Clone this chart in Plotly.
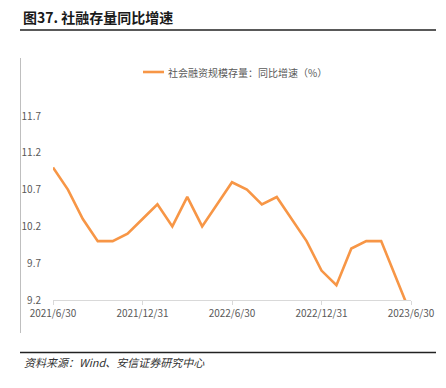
import plotly.graph_objects as go

dates = ["2021/6/30", "2021/7/31", "2021/8/31", "2021/9/30", "2021/10/31", "2021/11/30",
         "2021/12/31", "2022/1/31", "2022/2/28", "2022/3/31", "2022/4/30", "2022/5/31",
         "2022/6/30", "2022/7/31", "2022/8/31", "2022/9/30", "2022/10/31", "2022/11/30",
         "2022/12/31", "2023/1/31", "2023/2/28", "2023/3/31", "2023/4/30", "2023/5/31",
         "2023/6/30"]
tsf_growth = [11.0, 10.7, 10.3, 10.0, 10.0, 10.1, 10.3, 10.5, 10.2, 10.6, 10.2, 10.5,
              10.8, 10.7, 10.5, 10.6, 10.3, 10.0, 9.6, 9.4, 9.9, 10.0, 10.0, 9.5, 9.0]
x_ticks = ["2021/6/30", "2021/12/31", "2022/6/30", "2022/12/31", "2023/6/30"]
y_ticks = [9.2, 9.7, 10.2, 10.7, 11.2, 11.7]
series_name = "社会融资规模存量：同比增速（%）"
title_text = "图37. 社融存量同比增速"
source_text = "资料来源：Wind、安信证券研究中心"

W, H = 446, 388
L, R, T, B = 53, 35, 116, 88
pw = W - L - R
ph = H - T - B
LINE_COLOR = "#F79646"

def px(x):
    return (x - L) / pw

def py(y):
    return (H - B - y) / ph

fig = go.Figure()
fig.add_trace(go.Scatter(
    x=dates, y=tsf_growth, mode="lines", name=series_name,
    line=dict(color=LINE_COLOR, width=2.6),
    cliponaxis=True, showlegend=False,
))

fig.update_layout(
    width=W, height=H,
    margin=dict(l=L, r=R, t=T, b=B),
    paper_bgcolor="white", plot_bgcolor="white",
    font=dict(family="Noto Sans CJK SC, Noto Sans, sans-serif", color="#595959", size=10),
    showlegend=False,
    xaxis=dict(
        type="category", range=[0, 24],
        tickmode="array", tickvals=x_ticks, ticktext=x_ticks,
        showgrid=False, showline=True, linecolor="#D9D9D9", linewidth=1,
        ticks="outside", ticklen=4, tickcolor="#D9D9D9",
        tickfont=dict(size=10, color="#595959"),
        zeroline=False,
    ),
    yaxis=dict(
        range=[9.2, 11.7], tickmode="array", tickvals=y_ticks,
        ticktext=[f"{v:.1f}" for v in y_ticks],
        showgrid=False, showline=False, zeroline=False,
        ticks="outside", ticklen=9, tickcolor="rgba(0,0,0,0)",
        tickfont=dict(size=10, color="#595959"),
    ),
)

# manual legend
fig.add_shape(type="line", xref="paper", yref="paper", x0=px(143), x1=px(164),
              y0=py(72), y1=py(72), line=dict(color=LINE_COLOR, width=2.6))
fig.add_annotation(text=series_name, xref="paper", yref="paper",
                   x=px(166), y=py(72), xanchor="left", yanchor="middle", showarrow=False,
                   font=dict(size=10, color="#595959"))

# title
fig.add_annotation(text="<b>" + title_text + "</b>", xref="paper", yref="paper",
                   x=px(21), y=py(17), xanchor="left", yanchor="middle", showarrow=False,
                   font=dict(size=14, color="#1a1a1a", family="Noto Sans CJK SC"))
# source
fig.add_annotation(text="<i>" + source_text + "</i>", xref="paper", yref="paper",
                   x=px(22), y=py(362), xanchor="left", yanchor="middle", showarrow=False,
                   font=dict(size=11, color="#333333", family="Noto Sans CJK SC"))

# decorative lines
fig.add_shape(type="line", xref="paper", yref="paper", x0=px(20), x1=px(436),
              y0=py(30), y1=py(30), line=dict(color="#222222", width=1.5))
fig.add_shape(type="line", xref="paper", yref="paper", x0=px(20), x1=px(436),
              y0=py(352.5), y1=py(352.5), line=dict(color="#222222", width=1.5))
fig.add_shape(type="line", xref="paper", yref="paper", x0=px(20.5), x1=px(20.5),
              y0=py(58), y1=py(333), line=dict(color="#BFBFBF", width=1))

fig.write_html("out.html", config={"displayModeBar": False},
               post_script="document.body.style.margin='0';document.body.style.padding='0';")
